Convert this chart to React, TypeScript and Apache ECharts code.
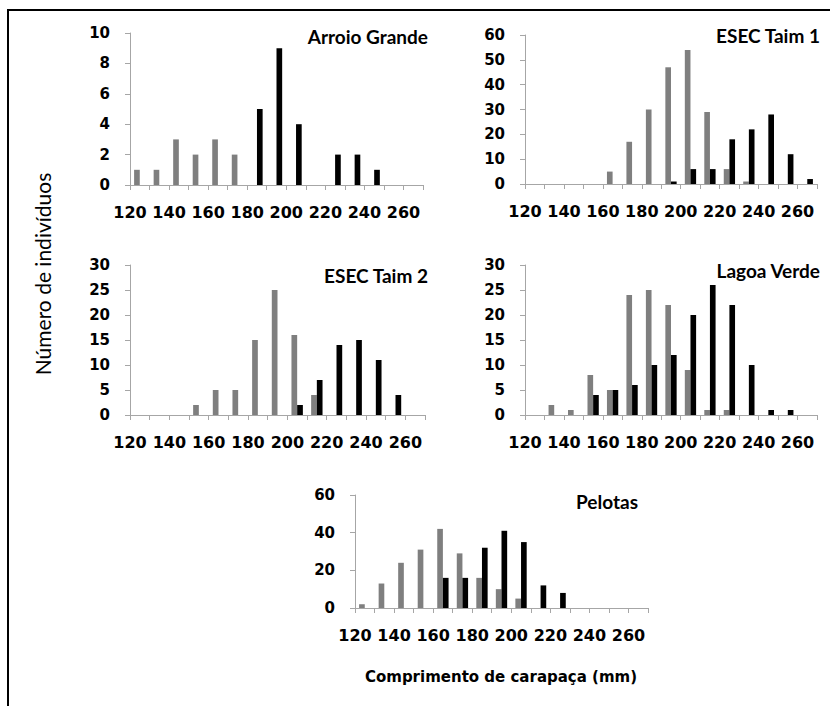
import React, { useEffect, useRef } from "react";
import * as echarts from "echarts";

// Size classes (carapace length, mm)
const categories = ["120", "130", "140", "150", "160", "170", "180", "190", "200", "210", "220", "230", "240", "250", "260"];

// Arroio Grande
const arroioGray = [1, 1, 3, 2, 3, 2, 0, 0, 0, 0, 0, 0, 0, 0, 0];
const arroioBlack = [0, 0, 0, 0, 0, 0, 5, 9, 4, 0, 2, 2, 1, 0, 0];
// ESEC Taim 1
const taim1Gray = [0, 0, 0, 0, 5, 17, 30, 47, 54, 29, 6, 1, 0, 0, 0];
const taim1Black = [0, 0, 0, 0, 0, 0, 0, 1, 6, 6, 18, 22, 28, 12, 2];
// ESEC Taim 2
const taim2Gray = [0, 0, 0, 2, 5, 5, 15, 25, 16, 4, 0, 0, 0, 0, 0];
const taim2Black = [0, 0, 0, 0, 0, 0, 0, 0, 2, 7, 14, 15, 11, 4, 0];
// Lagoa Verde
const lagoaGray = [0, 2, 1, 8, 5, 24, 25, 22, 9, 1, 1, 0, 0, 0, 0];
const lagoaBlack = [0, 0, 0, 4, 5, 6, 10, 12, 20, 26, 22, 10, 1, 1, 0];
// Pelotas
const pelotasGray = [2, 13, 24, 31, 42, 29, 16, 10, 5, 0, 0, 0, 0, 0, 0];
const pelotasBlack = [0, 0, 0, 0, 16, 16, 32, 41, 35, 12, 8, 0, 0, 0, 0];

const panelTitles = ["Arroio Grande", "ESEC Taim 1", "ESEC Taim 2", "Lagoa Verde", "Pelotas"];
const yMax = [10, 60, 30, 30, 60];
const yInterval = [2, 10, 5, 5, 20];

const yTitle = "Número de indivíduos";
const xTitle = "Comprimento de carapaça (mm)";

const layout = [
  { left: 130, top: 33, width: 293, height: 152, tx: 428, ty: 36 },
  { left: 525, top: 35, width: 292, height: 149, tx: 820, ty: 35 },
  { left: 130, top: 265, width: 295, height: 150, tx: 428, ty: 275 },
  { left: 525, top: 265, width: 292, height: 150, tx: 820, ty: 270 },
  { left: 355, top: 495, width: 293, height: 113, tx: 638, ty: 501 },
];

const grayData = [arroioGray, taim1Gray, taim2Gray, lagoaGray, pelotasGray];
const blackData = [arroioBlack, taim1Black, taim2Black, lagoaBlack, pelotasBlack];

const TICK_FONT = '"DejaVu Sans", sans-serif';

export default function App() {
  const ref = useRef<HTMLDivElement>(null);
  useEffect(() => {
    if (!ref.current) return;
    const chart = echarts.init(ref.current, undefined, { renderer: "svg" });
    const axisColor = "#a6a6a6";

    const grid = layout.map((l) => ({ left: l.left, top: l.top, width: l.width, height: l.height }));
    const xAxis = layout.map((l, i) => {
      const half = l.width / categories.length;
      return {
        type: "category",
        gridIndex: i,
        data: categories,
        boundaryGap: true,
        axisLine: { show: true, lineStyle: { color: axisColor, width: 1 } },
        axisTick: { show: true, alignWithLabel: false, interval: 0, length: 5, lineStyle: { color: axisColor } },
        axisLabel: {
          interval: 1,
          margin: 19,
          formatter: (v: string) => `{a|${v}}`,
          rich: {
            a: {
              fontFamily: TICK_FONT,
              fontWeight: "bold",
              fontSize: 16,
              color: "#000",
              padding: [0, half, 0, 0],
            },
          },
        },
        splitLine: { show: false },
      };
    });
    const yAxis = layout.map((_, i) => ({
      type: "value",
      gridIndex: i,
      min: 0,
      max: yMax[i],
      interval: yInterval[i],
      axisLine: { show: true, lineStyle: { color: axisColor, width: 1 } },
      axisTick: { show: true, length: 5, lineStyle: { color: axisColor } },
      axisLabel: { margin: 20, fontFamily: TICK_FONT, fontWeight: "bold", fontSize: 15, color: "#000" },
      splitLine: { show: false },
    }));
    const series: any[] = [];
    layout.forEach((_, i) => {
      series.push({
        type: "bar",
        xAxisIndex: i,
        yAxisIndex: i,
        data: grayData[i],
        barWidth: "29%",
        barGap: "0%",
        itemStyle: { color: "#7f7f7f" },
      });
      series.push({
        type: "bar",
        xAxisIndex: i,
        yAxisIndex: i,
        data: blackData[i],
        barWidth: "29%",
        barGap: "0%",
        itemStyle: { color: "#000000" },
      });
    });

    const graphic: any[] = [
      {
        type: "polyline",
        shape: { points: [[8, 706], [8, 10], [830, 10]] },
        style: { stroke: "#000", lineWidth: 2, fill: null },
        silent: true,
      },
      {
        type: "text",
        x: 42,
        y: 274,
        rotation: Math.PI / 2,
        style: {
          text: yTitle,
          font: '21px Lato, sans-serif',
          fill: "#000",
          align: "center",
          verticalAlign: "middle",
        },
      },
      {
        type: "text",
        x: 501,
        y: 677,
        style: {
          text: xTitle,
          font: 'bold 15px "DejaVu Sans", sans-serif',
          fill: "#000",
          align: "center",
          verticalAlign: "middle",
        },
      },
    ];
    layout.forEach((l, i) => {
      graphic.push({
        type: "text",
        x: l.tx,
        y: l.ty,
        style: {
          text: panelTitles[i],
          font: 'bold 19px Lato, sans-serif',
          fill: "#000",
          align: "right",
          verticalAlign: "middle",
        },
      });
    });

    chart.setOption({
      animation: false,
      backgroundColor: "#ffffff",
      grid,
      xAxis,
      yAxis,
      series,
      graphic,
    });
    return () => chart.dispose();
  }, []);
  return (
    <div
      ref={ref}
      style={{ position: "fixed", left: 0, top: 0, width: 830, height: 706, background: "#fff" }}
    />
  );
}
